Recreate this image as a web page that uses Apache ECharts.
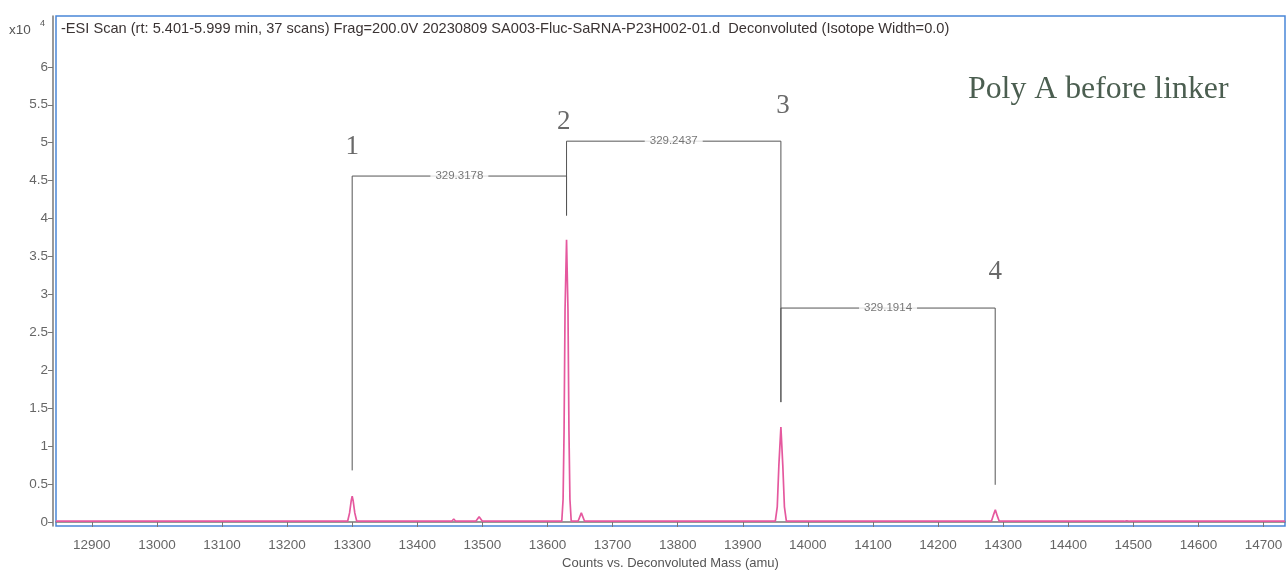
<!DOCTYPE html>
<html>
<head>
<meta charset="utf-8">
<script src="https://cdn.jsdelivr.net/npm/echarts@6/dist/echarts.min.js"></script>
<style>html,body{margin:0;padding:0;background:#fff;}#c{width:1286px;height:570px;}</style>
</head>
<body>
<div id="c"></div>
<script>
// Deconvoluted mass (amu) and counts (x10^4)
var massValues = [12845,
  13293, 13296, 13298.5, 13300, 13301.5, 13304, 13307,
  13453, 13456, 13459, 13490, 13495, 13500, 13513, 13516, 13519,
  13622, 13624, 13625.5, 13627, 13629.3, 13631.5, 13633, 13634.5, 13636.5,
  13647, 13652, 13657,
  13950, 13953, 13955.5, 13958.6, 13961.5, 13964, 13967,
  14282, 14285, 14288, 14291, 14294,
  14486, 14490, 14494, 14733];
var countValues = [0.01,
  0.01, 0.12, 0.28, 0.34, 0.28, 0.12, 0.01,
  0.01, 0.04, 0.01, 0.01, 0.07, 0.01, 0.01, 0.025, 0.01,
  0.01, 0.3, 1.2, 2.8, 3.72, 2.8, 1.2, 0.3, 0.01,
  0.01, 0.12, 0.01,
  0.01, 0.2, 0.75, 1.25, 0.75, 0.2, 0.01,
  0.01, 0.09, 0.16, 0.08, 0.01,
  0.01, 0.016, 0.01, 0.01];
var xTickLabels = [12900, 13000, 13100, 13200, 13300, 13400, 13500, 13600, 13700, 13800, 13900, 14000, 14100, 14200, 14300, 14400, 14500, 14600, 14700];
var yTickLabels = [0, 0.5, 1, 1.5, 2, 2.5, 3, 3.5, 4, 4.5, 5, 5.5, 6];

// peak annotations
var peakNames = ['1', '2', '3', '4'];
var peakMasses = [13300, 13629.3, 13958.6, 14287.8];
var peakNameHeights = [4.94, 5.28, 5.49, 3.29];
var peakNameMasses = [13300, 13625, 13962, 14288];
// brackets between consecutive peaks
var bracketLabels = ['329.3178', '329.2437', '329.1914'];
var bracketLevels = [4.56, 5.02, 2.82];
var bracketLeftBottoms = [0.68, 4.04, 1.58];
var bracketRightBottoms = [4.04, 1.58, 0.49];

var spectrum = massValues.map(function (m, i) { return [m, countValues[i]]; });

var series = [{
  type: 'line', data: spectrum, symbol: 'none', silent: true,
  lineStyle: { color: '#e5589e', width: 1.7 }, z: 3
}];
for (var i = 0; i < bracketLabels.length; i++) {
  var a = peakMasses[i], b = peakMasses[i + 1];
  series.push({
    type: 'line', symbol: 'none', silent: true, z: 2,
    lineStyle: { color: '#555', width: 1 },
    data: [[a, bracketLeftBottoms[i]], [a, bracketLevels[i]], [b, bracketLevels[i]], [b, bracketRightBottoms[i]]]
  });
  series.push({
    type: 'scatter', symbolSize: 0, silent: true, z: 4,
    data: [[(a + b) / 2, bracketLevels[i]]],
    label: { show: true, position: 'inside', formatter: bracketLabels[i], color: '#555', fontSize: 11.5,
      fontFamily: 'Liberation Sans, Arial, sans-serif', backgroundColor: '#fff', padding: [1, 5] }
  });
}
series.push({
  type: 'scatter', symbolSize: 0, silent: true, z: 4,
  data: peakNames.map(function (n, i) { return { value: [peakNameMasses[i], peakNameHeights[i]], name: n }; }),
  label: { show: true, position: 'inside', formatter: '{b}', color: '#444', fontSize: 27,
    fontFamily: 'Liberation Serif, Times New Roman, serif' }
});

var chart = echarts.init(document.getElementById('c'), null, { renderer: 'canvas' });
chart.setOption({
  animation: false,
  backgroundColor: '#fff',
  grid: { left: 56, right: 1, top: 16, bottom: 44, outerBoundsMode: 'none', containLabel: false,
    show: true, borderColor: '#4a86d8', borderWidth: 1.5, backgroundColor: '#fff' },
  xAxis: {
    type: 'value', min: 12845, max: 14733, offset: 2,
    name: 'Counts vs. Deconvoluted Mass (amu)', nameLocation: 'middle', nameGap: 29,
    nameTextStyle: { color: '#555', fontSize: 13, fontFamily: 'Liberation Sans, Arial, sans-serif' },
    axisLine: { show: true, lineStyle: { color: '#777', width: 1.5 } },
    axisTick: { show: true, length: 5, customValues: xTickLabels, lineStyle: { color: '#777' } },
    axisLabel: { customValues: xTickLabels, formatter: function (v) { return String(v); },
      color: '#666', fontSize: 13.5, margin: 10, fontFamily: 'Liberation Sans, Arial, sans-serif' },
    splitLine: { show: false }
  },
  yAxis: {
    type: 'value', min: -0.053, max: 6.67, offset: 3,
    axisLine: { show: true, lineStyle: { color: '#777', width: 1.5 } },
    axisTick: { show: true, length: 5, customValues: yTickLabels, lineStyle: { color: '#777' } },
    axisLabel: { customValues: yTickLabels, formatter: function (v) { return String(v); },
      color: '#666', fontSize: 13.5, margin: 5, fontFamily: 'Liberation Sans, Arial, sans-serif' },
    splitLine: { show: false }
  },
  graphic: [
    { type: 'text', left: 9, top: 23, style: { text: 'x10', fill: '#555', font: '13.5px Liberation Sans, Arial, sans-serif' } },
    { type: 'text', left: 40, top: 19, style: { text: '4', fill: '#555', font: '9px Liberation Sans, Arial, sans-serif' } },
    { type: 'text', left: 61, top: 21, style: { text: '-ESI Scan (rt: 5.401-5.999 min, 37 scans) Frag=200.0V 20230809 SA003-Fluc-SaRNA-P23H002-01.d  Deconvoluted (Isotope Width=0.0)', fill: '#3b3434', font: '14.6px Liberation Sans, Arial, sans-serif' } },
    { type: 'text', left: 968, top: 74, style: { text: 'Poly A before linker', fill: '#4b5e50', font: '31.8px Liberation Serif, Times New Roman, serif' } }
  ],
  series: series
});
</script>
</body>
</html>
